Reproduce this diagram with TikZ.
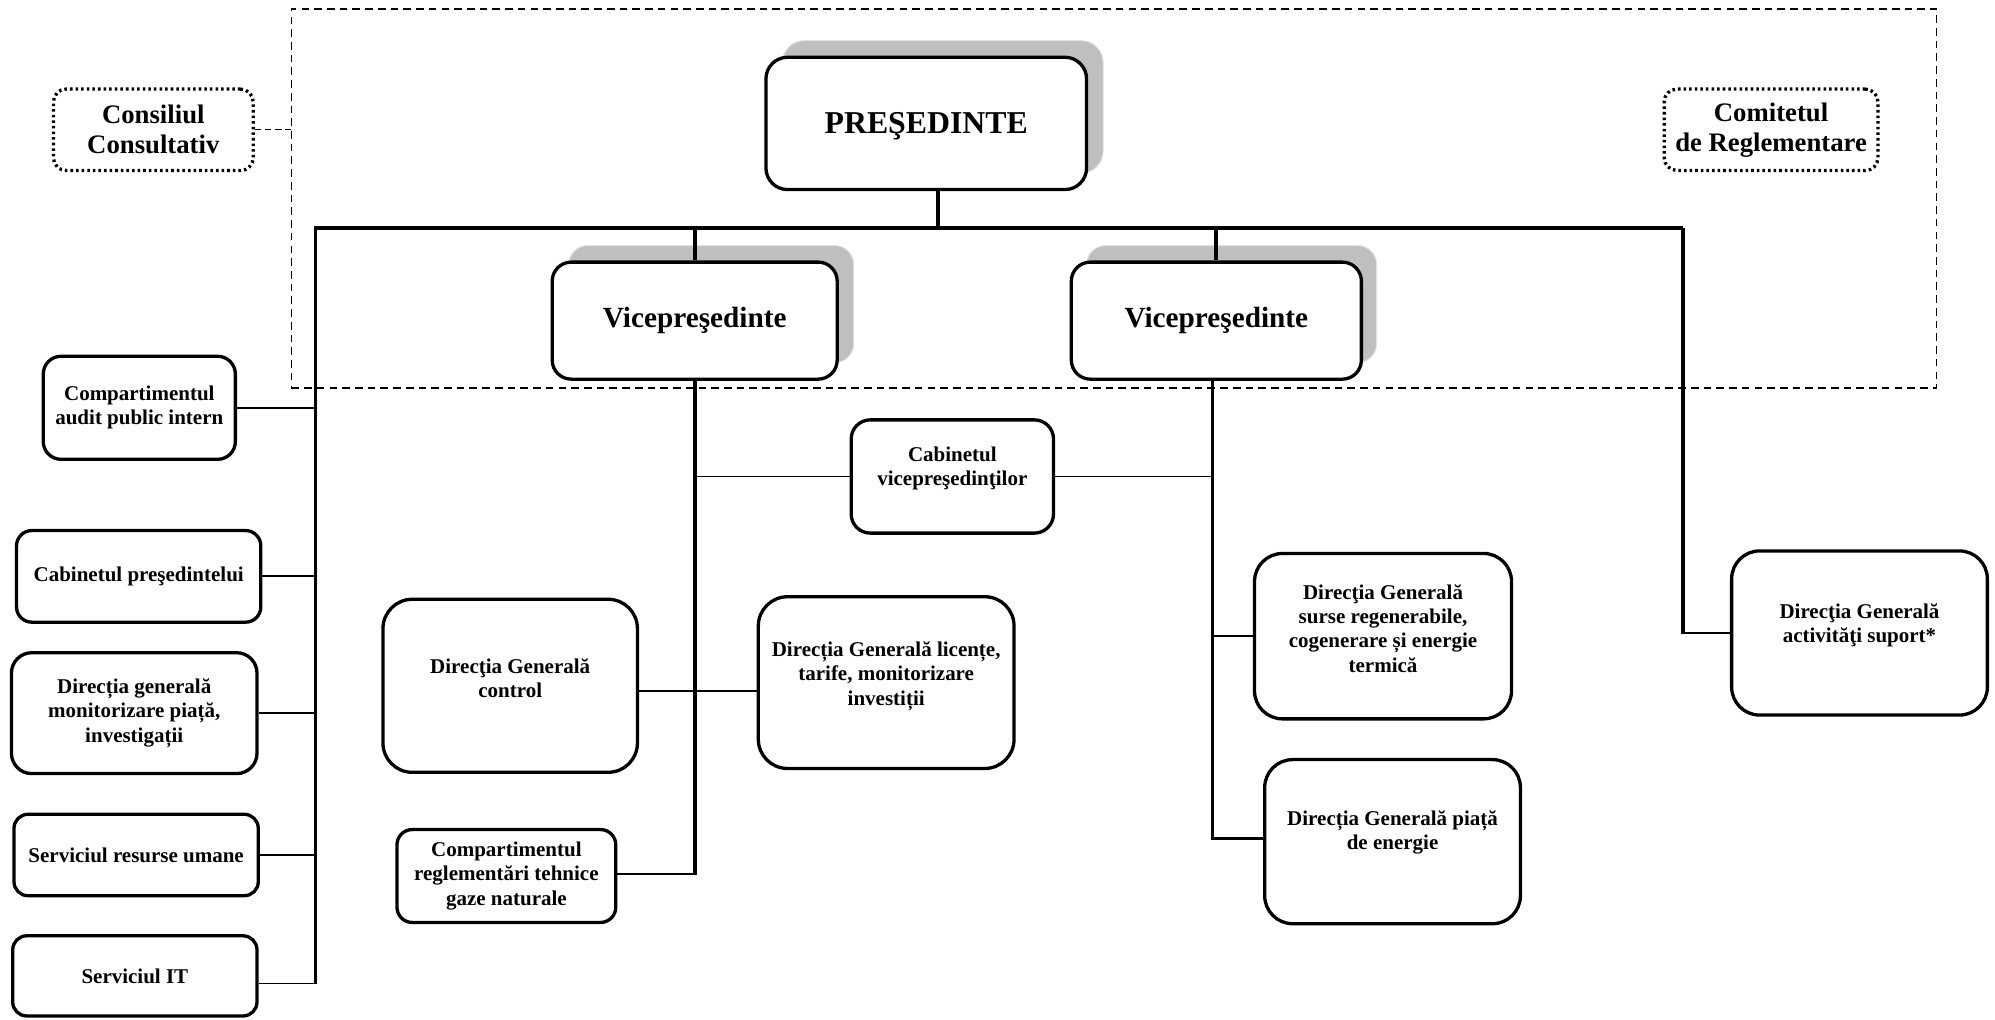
\documentclass[tikz,border=0pt]{standalone}
\usepackage{fontspec}
\setmainfont{Liberation Serif}
\begin{document}
\begin{tikzpicture}[x=1pt,y=-1pt,
  box/.style={draw, line width=2.6pt, fill=white, rounded corners=#1, inner sep=0pt},
  shadowbox/.style={fill=black!25, draw=black!12, line width=0.8pt, rounded corners=#1, inner sep=0pt},
  dotbox/.style={draw, line width=2.6pt, dash pattern=on 2pt off 2.4pt, fill=white, rounded corners=#1, inner sep=0pt},
  txt/.style={align=center, font=\fontsize{16.5}{19}\selectfont\bfseries, inner sep=0pt},
  midtxt/.style={align=center, font=\fontsize{21}{23.5}\selectfont\bfseries, inner sep=0pt},
  vptxt/.style={align=center, font=\fontsize{23}{26}\selectfont\bfseries, inner sep=0pt},
  prestxt/.style={align=center, font=\fontsize{25}{28}\selectfont\bfseries, inner sep=0pt},
  bus/.style={line width=3pt},
  halfbus/.style={line width=2.2pt},
  thinline/.style={line width=1.4pt},
  frame/.style={draw, line width=1.1pt, dash pattern=on 6pt off 4pt, inner sep=0pt}]
\useasboundingbox (0,0) rectangle (1568,801);
\newcommand\bx[6]{\node[box=#6pt, minimum width=#4pt, minimum height=#5pt] (#1) at (#2,#3) {};}

% dashed frame
\node[frame, minimum width=1293pt, minimum height=298pt] (frm) at (875.5,156) {};

% dotted side boxes
\node[dotbox=10pt, minimum width=157pt, minimum height=64pt] (cons) at (120.5,102) {};
\node[midtxt] (cons-t) at (cons.center) {Consiliul\\Consultativ};
\node[dotbox=10pt, minimum width=168pt, minimum height=64pt] (comit) at (1392,102) {};
\node[midtxt] (comit-t) at (comit.center) {Comitetul\\de Reglementare};

% shadows
\node[shadowbox=17pt, minimum width=252pt, minimum height=104pt] (pres-s) at (741,84) {};
\node[shadowbox=15pt, minimum width=224pt, minimum height=92pt] (vp1-s) at (559,239) {};
\node[shadowbox=15pt, minimum width=228pt, minimum height=92pt] (vp2-s) at (968,239) {};

% top boxes
\bx{pres}{728}{97}{252}{104}{17}
\node[prestxt] (pres-t) at ([yshift=-2pt]pres.center) {PREŞEDINTE};
\bx{vp1}{546}{252}{224}{92}{15}
\node[vptxt] (vp1-t) at (vp1.center) {Vicepreşedinte};
\bx{vp2}{956}{252}{228}{92}{15}
\node[vptxt] (vp2-t) at (vp2.center) {Vicepreşedinte};

% left column
\bx{audit}{109.5}{320.5}{151}{81}{14}
\node[txt] (audit-t) at (audit.center) {Compartimentul\\audit public intern};
\bx{cabp}{109}{453}{192}{72}{12}
\node[txt] (cabp-t) at (cabp.center) {Cabinetul preşedintelui};
\bx{monit}{105.5}{560.5}{193}{95}{16}
\node[txt] (monit-t) at (monit.center) {Direcția generală\\monitorizare piață,\\investigații};
\bx{resum}{107}{672}{192}{64}{11}
\node[txt] (resum-t) at (resum.center) {Serviciul resurse umane};
\bx{it}{106}{767}{192}{63}{11}
\node[txt] (it-t) at (it.center) {Serviciul IT};

% middle
\bx{cabvp}{748.5}{374.5}{159}{89}{15}
\node[txt] (cabvp-t) at ([yshift=6pt]cabvp.center) {Cabinetul\\vicepreşedinţilor};
\bx{control}{401}{539}{200}{136}{23}
\node[txt] (control-t) at ([yshift=6pt]control.center) {Direcţia Generală\\control};
\bx{licente}{696.5}{536.5}{201}{135}{23}
\node[txt] (licente-t) at ([yshift=5pt]licente.center) {Direcția Generală licențe,\\tarife, monitorizare\\investiții};
\bx{regl}{398}{688.5}{172}{73}{12}
\node[txt] (regl-t) at (regl.center) {Compartimentul\\reglementări tehnice\\gaze naturale};

% right
\bx{surse}{1087}{500}{202}{130}{22}
\node[txt] (surse-t) at ([yshift=6pt]surse.center) {Direcţia Generală\\surse regenerabile,\\cogenerare și energie\\termică};
\bx{piata}{1094.5}{661.5}{201}{129}{22}
\node[txt] (piata-t) at ([yshift=7pt]piata.center) {Direcția Generală piață\\de energie};
\bx{activ}{1461.5}{497.5}{201}{129}{22}
\node[txt] (activ-t) at ([yshift=6pt]activ.center) {Direcţia Generală\\activităţi suport*};

% junction coordinates
\coordinate (busL) at (248,179);
\coordinate (busR) at (1323,179);
\coordinate (lbot) at (248,773);
\coordinate (pb) at (737,179);
\coordinate (v1b) at (546,687);
\coordinate (v1m) at (546,543);
\coordinate (v2b) at (953,659);

% connectors
\draw[line width=1.1pt, dash pattern=on 5pt off 3pt] (cons.east) -- (cons.east -| frm.west);
\draw[bus] (pb |- pres.south) -- (pb);
\draw[bus] (lbot) -- (busL) -- (busR);
\draw[bus] (busR) -- (busR |- activ.west);
\draw[halfbus] ([xshift=-1.5pt]busR |- activ.west) -- (activ.west);
\draw[bus] (vp1.north |- busL) -- (vp1.north);
\draw[bus] (vp2.north |- busL) -- (vp2.north);

\draw[thinline] (audit.east) -- (audit.east -| busL);
\draw[thinline] (cabp.east) -- (cabp.east -| busL);
\draw[thinline] (monit.east) -- (monit.east -| busL);
\draw[thinline] (resum.east) -- (resum.east -| busL);
\draw[thinline] (it.east |- lbot) -- (lbot);

\draw[bus] (vp1.south) -- (v1b);
\draw[thinline] (regl.east |- v1b) -- ([xshift=1.5pt]v1b);
\draw[thinline] (control.east |- v1m) -- (licente.west |- v1m);
\draw[thinline] (cabvp.west) -- (cabvp.west -| v1b);
\draw[thinline] (cabvp.east) -- (cabvp.east -| v2b);

\draw[bus] (v2b |- vp2.south) -- (v2b);
\draw[halfbus] ([xshift=-1.5pt]v2b) -- (piata.west |- v2b);
\draw[thinline] (surse.west) -- (surse.west -| v2b);
\end{tikzpicture}
\end{document}
